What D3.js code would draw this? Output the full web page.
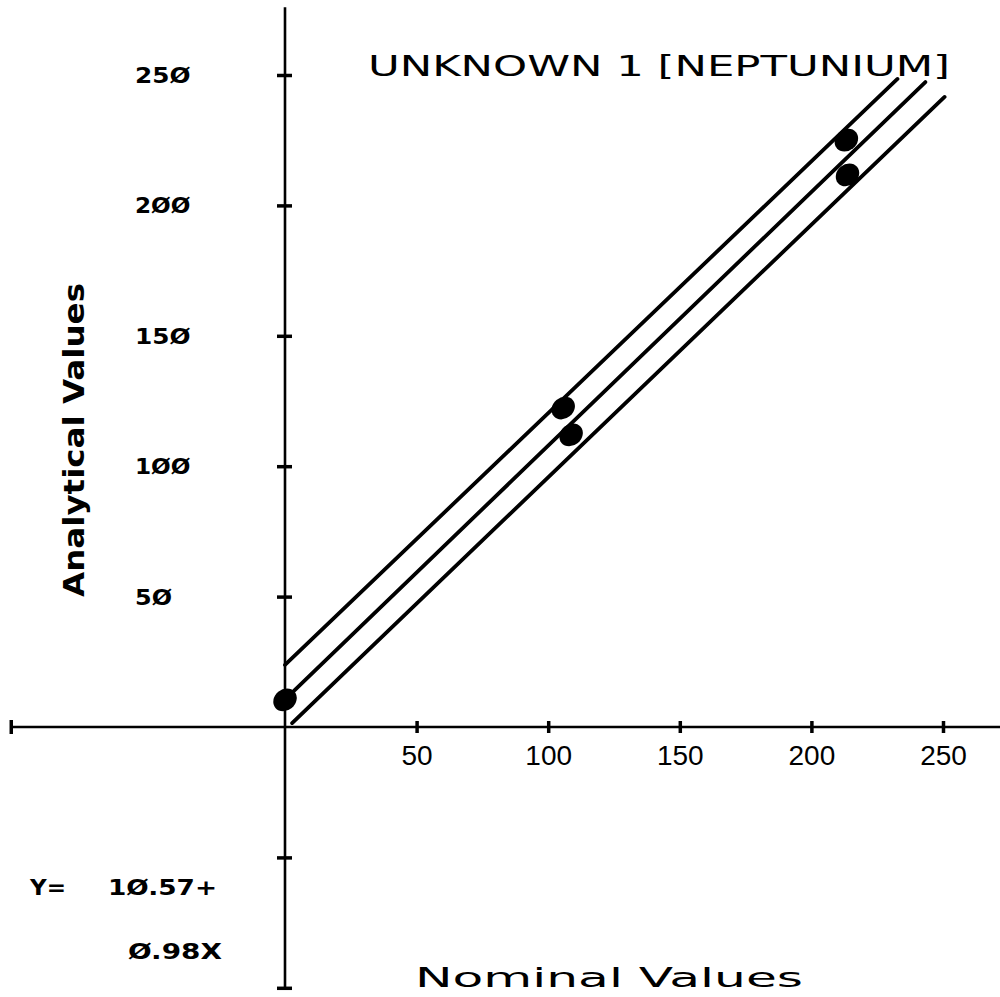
<!DOCTYPE html>
<html>
<head>
<meta charset="utf-8">
<script src="https://cdn.jsdelivr.net/npm/d3@7"></script>
<style>
  body { margin: 0; background: #fff; }
  svg { display: block; }
  .dot-font { font-family: "DejaVu Sans", sans-serif; font-weight: bold; }
  .plain-font { font-family: "DejaVu Sans", sans-serif; }
</style>
</head>
<body>
<div id="chart"></div>
<script>
// Dữ liệu
const xTicks = [50, 100, 150, 200, 250];
const yTicks = [-100, -50, 50, 100, 150, 200, 250];
const yLabelTicks = [50, 100, 150, 200, 250];

// Các điểm đo (nominal, analytical)
const pointsX = [0, 105.7, 108.7, 213.3, 213.7];
const pointsY = [10.4, 122.3, 112, 225, 211.7];

// Đường hồi quy và hai đường giới hạn: [x đầu, y đầu, x cuối, y cuối]
const upperLine = [0, 23.8, 232.7, 248.5];
const fitLine = [3, 13.5, 243.3, 247.3];
const lowerLine = [2.7, 1.5, 250.6, 241.6];

const titleText = "UNKNOWN 1 [NEPTUNIUM]";
const xTitle = "Nominal Values";
const yTitle = "Analytical Values";
const eqLine1 = ["Y=", "10.57+"];
const eqLine2 = "0.98X";

const W = 1000, H = 997;

const svg = d3.select("#chart")
    .append("svg")
    .attr("width", W)
    .attr("height", H);

const x = d3.scaleLinear().domain([0, 250]).range([285, 943]);
const y = d3.scaleLinear().domain([0, 250]).range([727, 75]);

const slashZero = s => String(s).replace(/0/g, "Ø");

// Trục X
svg.append("line")
    .attr("x1", x(-104)).attr("x2", W)
    .attr("y1", y(0)).attr("y2", y(0))
    .attr("stroke", "#000").attr("stroke-width", 2.6);

// vạch ở đầu trái trục X
svg.append("line")
    .attr("x1", x(-104)).attr("x2", x(-104))
    .attr("y1", y(0) - 7).attr("y2", y(0) + 7)
    .attr("stroke", "#000").attr("stroke-width", 3.5);

const xAxis = svg.append("g")
    .attr("transform", `translate(0,${y(0) - 6})`)
    .call(d3.axisBottom(x).tickValues(xTicks).tickSize(12).tickPadding(12));
xAxis.select(".domain").remove();
xAxis.selectAll(".tick line").attr("stroke", "#000").attr("stroke-width", 3.5);
xAxis.selectAll(".tick text")
    .attr("fill", "#000")
    .style("font-family", "'Liberation Sans', sans-serif")
    .style("font-size", "28px");

// Trục Y
svg.append("line")
    .attr("x1", x(0)).attr("x2", x(0))
    .attr("y1", y(-100)).attr("y2", y(276))
    .attr("stroke", "#000").attr("stroke-width", 2.6);

const yAxis = svg.append("g")
    .attr("transform", `translate(${x(0) + 7},0)`)
    .call(d3.axisLeft(y).tickValues(yTicks).tickSize(15).tickFormat(""));
yAxis.select(".domain").remove();
yAxis.selectAll(".tick line").attr("stroke", "#000").attr("stroke-width", 3.5);

// Nhãn trục Y (chữ đậm kiểu máy in)
svg.selectAll(".ylabel")
    .data(yLabelTicks)
    .enter()
    .append("text")
    .attr("class", "ylabel dot-font")
    .attr("x", 135)
    .attr("y", d => y(d) + 8)
    .attr("textLength", d => String(d).length * 18.5)
    .attr("lengthAdjust", "spacingAndGlyphs")
    .style("font-size", "21px")
    .text(d => slashZero(d));

// Các đường
[upperLine, fitLine, lowerLine].forEach(l => {
    svg.append("line")
        .attr("x1", x(l[0])).attr("y1", y(l[1]))
        .attr("x2", x(l[2])).attr("y2", y(l[3]))
        .attr("stroke", "#000")
        .attr("stroke-width", 3.8)
        .attr("stroke-linecap", "round");
});

// Các điểm
svg.selectAll(".pt")
    .data(pointsX.map((v, i) => [v, pointsY[i]]))
    .enter()
    .append("ellipse")
    .attr("class", "pt")
    .attr("transform", d => `translate(${x(d[0])},${y(d[1])}) rotate(-40)`)
    .attr("rx", 12.5)
    .attr("ry", 10.5)
    .attr("fill", "#000");

// Tiêu đề
svg.append("text")
    .attr("class", "plain-font")
    .attr("x", 368)
    .attr("y", 76)
    .attr("textLength", 582)
    .attr("lengthAdjust", "spacingAndGlyphs")
    .style("font-size", "28px")
    .text(titleText);

// Tiêu đề trục X
svg.append("text")
    .attr("class", "plain-font")
    .attr("x", 415)
    .attr("y", 987)
    .attr("textLength", 388)
    .attr("lengthAdjust", "spacingAndGlyphs")
    .style("font-size", "27px")
    .text(xTitle);

// Tiêu đề trục Y
svg.append("text")
    .attr("class", "dot-font")
    .attr("transform", "translate(84,597) rotate(-90)")
    .attr("textLength", 314)
    .attr("lengthAdjust", "spacingAndGlyphs")
    .style("font-size", "28px")
    .text(yTitle);

// Phương trình hồi quy
const eq = svg.append("g")
    .attr("class", "dot-font")
    .style("font-size", "21px");
eq.append("text").attr("x", 30).attr("y", 895)
    .attr("textLength", 36).attr("lengthAdjust", "spacingAndGlyphs")
    .text(eqLine1[0]);
eq.append("text").attr("x", 108).attr("y", 895)
    .attr("textLength", 109).attr("lengthAdjust", "spacingAndGlyphs")
    .text(slashZero(eqLine1[1]));
eq.append("text").attr("x", 128).attr("y", 959)
    .attr("textLength", 94).attr("lengthAdjust", "spacingAndGlyphs")
    .text(slashZero(eqLine2));
</script>
</body>
</html>
